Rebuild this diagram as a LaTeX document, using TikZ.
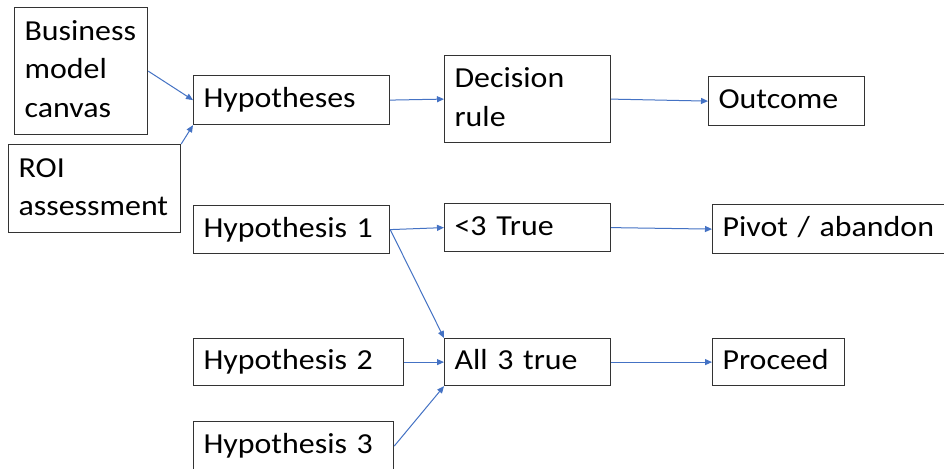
\documentclass[tikz,border=0pt]{standalone}
\usepackage{fontspec}
\setmainfont[FakeStretch=1.1]{Carlito}
\usetikzlibrary{
  arrows.meta,
}
\definecolor{linkblue}{HTML}{4472C4}
\tikzset{
  box/.style 2 args={draw=black!80, line width=1.2pt, anchor=north west,
    align=left, inner xsep=10pt, inner ysep=0pt,
    text width=#1, minimum height=#2,
    font=\fontsize{29}{38.5}\selectfont,
    execute at begin node=\strut, execute at end node=\strut},
  link/.style={draw=linkblue, line width=1pt,
    -{Triangle[length=7pt,width=6pt]}},
}

\begin{document}
\begin{tikzpicture}[x=1pt,y=-1pt]
\clip (0,0) rectangle (944,468);
\fill[white] (0,0) rectangle (944,468);
% boxes: name / left / top / text width / height / text
\foreach \name/\x/\y/\w/\h/\txt in {
  canvas/14/7/113/127/{Business\\model\\canvas},
  roi/8/144/152/88/{ROI\\assessment},
  hyps/193/75/176/49/{Hypotheses},
  rule/444/55/146/87/{Decision\\rule},
  outcome/708/76/136/49/{Outcome},
  hyp1/193/205/176/48/{Hypothesis 1},
  less/444/203/146/48/{<3 True},
  pivot/712/204/228/49/{Pivot / abandon},
  hyp2/193/338/190/47/{Hypothesis 2},
  all/444/338/146/47/{All 3 true},
  proceed/712/338/112/47/{Proceed},
  hyp3/193/421/180/49/{Hypothesis 3}} {
  \node[box={\w pt}{\h pt}] (\name) at (\x,\y) {\txt};
}
% arrows
\foreach \a/\b in {canvas.east/hyps.west, roi.north east/hyps.south west,
  hyps.east/rule.west, rule.east/outcome.west,
  hyp1.east/less.west, hyp1.east/all.north west,
  hyp2.east/all.west, hyp3.east/all.south west,
  less.east/pivot.west, all.east/proceed.west} {
  \draw[link] (\a) -- (\b);
}
\end{tikzpicture}
\end{document}
